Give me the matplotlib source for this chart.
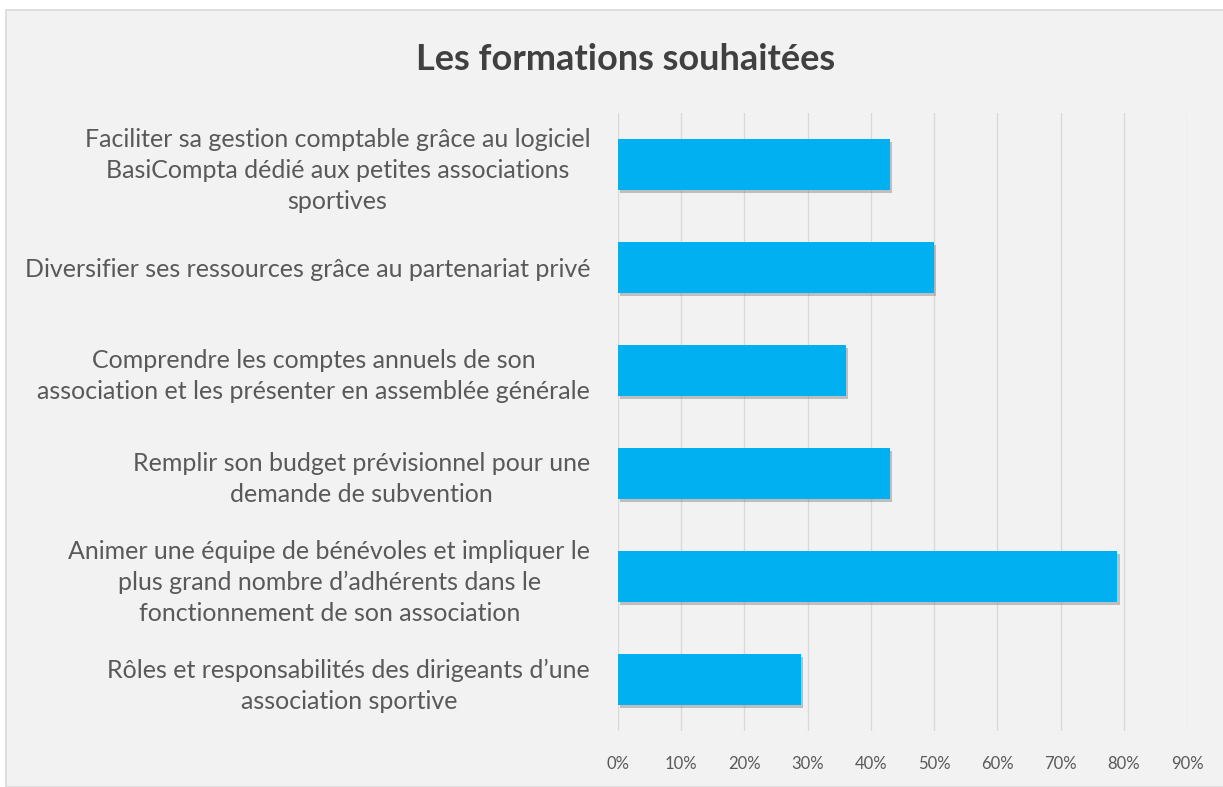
"""
Les formations souhaitées - horizontal bar chart
"""
import matplotlib
matplotlib.use("Agg")
import matplotlib.pyplot as plt
import matplotlib.patheffects as pe
from matplotlib.patches import Rectangle
from matplotlib.ticker import FuncFormatter

# Data (top to bottom as in the chart)
categories = [
    "Faciliter sa gestion comptable grâce au logiciel\nBasiCompta dédié aux petites associations\nsportives",
    "Diversifier ses ressources grâce au partenariat privé",
    "Comprendre les comptes annuels de son\nassociation et les présenter en assemblée générale",
    "Remplir son budget prévisionnel pour une\ndemande de subvention",
    "Animer une équipe de bénévoles et impliquer le\nplus grand nombre d\u2019adhérents dans le\nfonctionnement de son association",
    "Rôles et responsabilités des dirigeants d\u2019une\nassociation sportive",
]
values = [0.43, 0.50, 0.36, 0.43, 0.79, 0.29]
x_ticks = [0.0, 0.1, 0.2, 0.3, 0.4, 0.5, 0.6, 0.7, 0.8, 0.9]

plt.rcParams['font.family'] = ['Lato', 'DejaVu Sans']

fig = plt.figure(figsize=(12.23, 7.87), dpi=100)
fig.patch.set_facecolor('white')

# chart area background with a thin border
fig.patches.append(Rectangle((6 / 1223, 0.0), 1.0, 1 - 10 / 787,
                             transform=fig.transFigure, facecolor='#F2F2F2',
                             edgecolor='#D9D9D9', linewidth=1.2, zorder=-10))

ax = fig.add_axes([618 / 1223, 56 / 787, 569 / 1223, 618 / 787])
ax.set_facecolor('none')

ypos = list(range(len(categories)))
bars = ax.barh(ypos, values, height=0.5, color='#00B0F0', zorder=3)
for b in bars:
    b.set_path_effects([pe.SimplePatchShadow(offset=(1.5, -2), shadow_rgbFace='#7F7F7F', alpha=0.45),
                        pe.Normal()])

ax.set_ylim(len(categories) - 0.5, -0.5)
ax.set_yticks(ypos)
ax.set_yticklabels(categories, fontsize=18, color='#595959', ha='right',
                   multialignment='center', linespacing=1.42)

ax.set_xlim(0, 0.9)
ax.set_xticks(x_ticks)
ax.xaxis.set_major_formatter(FuncFormatter(lambda v, p: f"{v * 100:.0f}%"))
for lbl in ax.get_xticklabels():
    lbl.set_fontsize(12)
    lbl.set_color('#595959')

ax.grid(axis='x', color='#D9D9D9', linewidth=1.0, zorder=0)
ax.tick_params(axis='both', length=0)
ax.tick_params(axis='y', pad=20)
ax.tick_params(axis='x', pad=18)
for s in ax.spines.values():
    s.set_visible(False)

fig.text(626 / 1223, 1 - 60 / 787, "Les formations souhaitées", ha='center', va='center',
         fontsize=26, fontweight='bold', color='#404040')

fig.savefig('out.png', dpi=100, facecolor=fig.get_facecolor())
